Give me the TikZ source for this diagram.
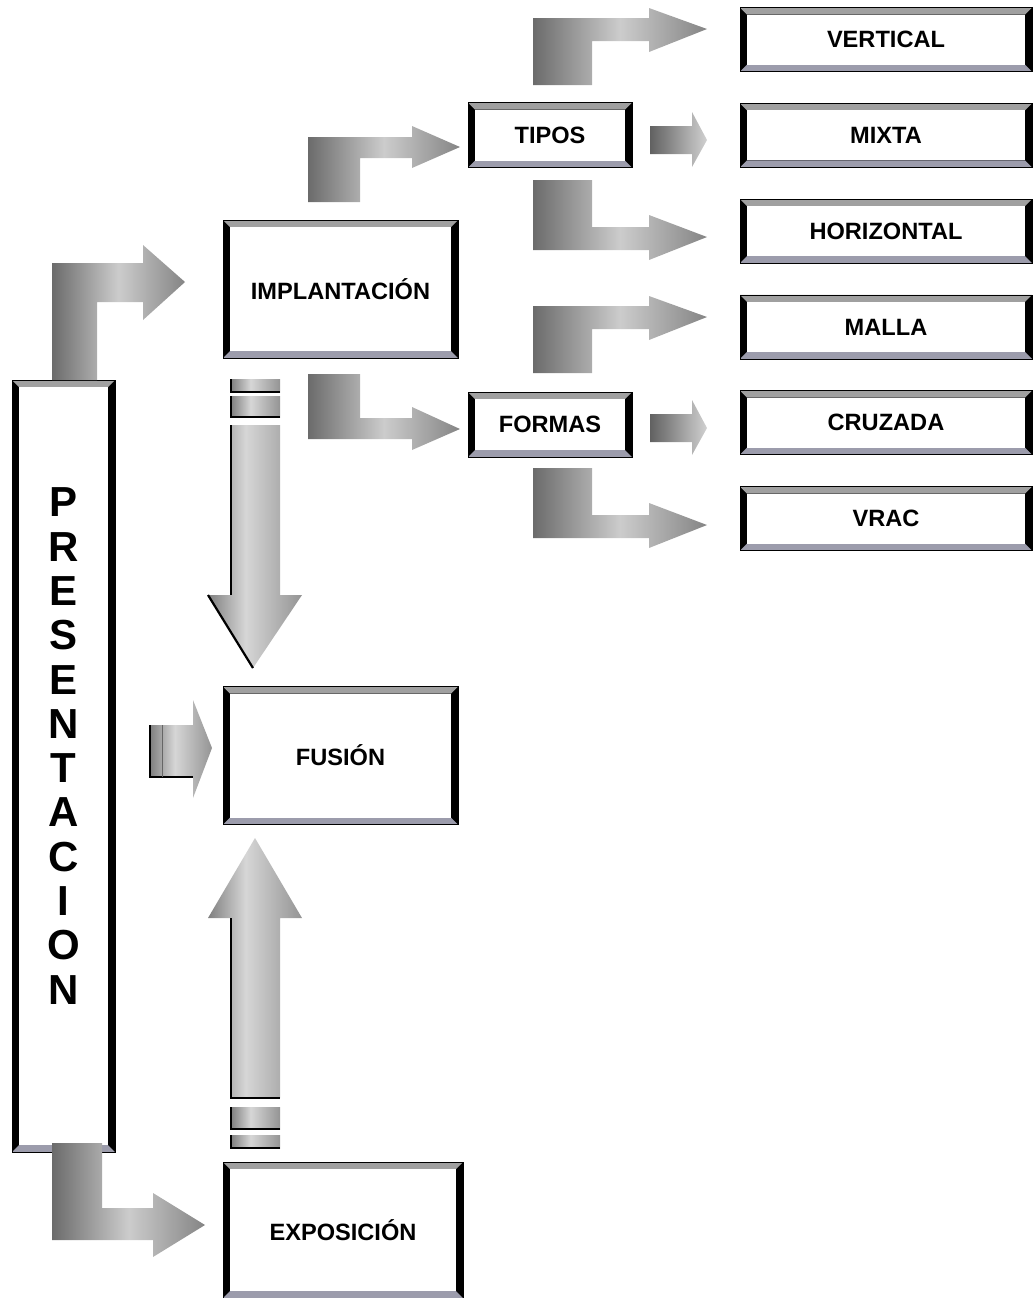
\documentclass[tikz,border=0pt]{standalone}
\usepackage{fontspec}
\setmainfont{Liberation Sans}
\usetikzlibrary{calc}

\newcommand{\bv}{3.5pt}
\definecolor{bandtop}{HTML}{A0A0A0}
\definecolor{bandbot}{HTML}{9C9CAC}
\pgfdeclarehorizontalshading{fatgrad}{100bp}{color(0bp)=(black!58); color(25bp)=(black!58);
  color(50bp)=(black!20); color(75bp)=(black!48); color(100bp)=(black!48)}
\pgfdeclarehorizontalshading{flatgrad}{100bp}{color(0bp)=(black!62); color(25bp)=(black!62);
  color(75bp)=(black!18); color(100bp)=(black!18)}
\pgfdeclarehorizontalshading{shaftgrad}{100bp}{color(0bp)=(black!50); color(25bp)=(black!50);
  color(45bp)=(black!16); color(75bp)=(black!42); color(100bp)=(black!42)}

\tikzset{
  bevelbox/.style={draw=black, line width=0.4pt, fill=black, inner sep=0pt,
    font=\bfseries\fontsize{11.8}{13}\selectfont,
    path picture={
      \coordinate (nw) at (path picture bounding box.north west);
      \coordinate (ne) at (path picture bounding box.north east);
      \coordinate (sw) at (path picture bounding box.south west);
      \coordinate (se) at (path picture bounding box.south east);
      \fill[bandtop] (nw) -- (ne) -- ([shift={(-\bv,-\bv)}]ne)
        -- ([shift={(\bv,-\bv)}]nw) -- cycle;
      \fill[bandbot] (sw) -- (se) -- ([shift={(-\bv,\bv)}]se)
        -- ([shift={(\bv,\bv)}]sw) -- cycle;
      \fill[white] ([shift={(\bv,-\bv)}]nw) rectangle ([shift={(-\bv,\bv)}]se);
    }},
  bigbox/.style={bevelbox, minimum width=117.5pt, minimum height=69pt},
  tagbox/.style={bevelbox, minimum width=82pt, minimum height=32.5pt},
  leafbox/.style={bevelbox, minimum width=146pt, minimum height=32pt},
  fatarrow/.style={shading=fatgrad},
  flatarrow/.style={shading=flatgrad},
  shaftarrow/.style={shading=shaftgrad},
  rim/.style={draw=black, line width=1.1pt}
}

\begin{document}
\begin{tikzpicture}[x=0.5pt, y=-0.5pt]
  \useasboundingbox (0,0) rectangle (1034,1298);

  % cajas
  \node[bevelbox, minimum width=51.5pt, minimum height=386pt,
        label={[font=\bfseries\fontsize{21}{22.15}\selectfont, align=center, yshift=10pt]center:P\\R\\E\\S\\E\\N\\T\\A\\C\\I\\O\\N}]
        (pres) at (63.5,766) {};
  \node[bigbox] (impl) at (340.5,289) {IMPLANTACIÓN};
  \node[bigbox] (fus) at (340.5,755.5) {FUSIÓN};
  \node[bigbox, minimum width=120pt, minimum height=68pt] (expo) at (343,1230) {EXPOSICIÓN};
  \node[tagbox] (tipos) at (550,135) {TIPOS};
  \node[tagbox] (formas) at (550,424.5) {FORMAS};
  \foreach \nm/\txt [count=\i from 0] in {vert/VERTICAL,mix/MIXTA,hor/HORIZONTAL,mal/MALLA,cruz/CRUZADA,vrac/VRAC}
    \node[leafbox] (\nm) at (886,{39.5+95.8*\i}) {\txt};

  % flechas desde PRESENTACION
  \shade[fatarrow] (52,380) -- (52,263) -- (143,263) -- (143,245) -- (185,282)
     -- (143,320) -- (143,302) -- (97,302) -- (97,380) -- cycle;
  \shade[fatarrow] (52,1143) -- (52,1240) -- (153,1240) -- (153,1257) -- (205,1225)
     -- (153,1193) -- (153,1208) -- (102,1208) -- (102,1143) -- cycle;
  \shade[shaftarrow] (150,725) -- (193,725) -- (193,700) -- (212,748)
     -- (193,798) -- (193,777) -- (150,777) -- cycle;
  \draw[rim] (150,725) -- (150,777) -- (193,777);
  \draw[black!60] (162,725) -- (162,777);

  % flechas desde IMPLANTACION
  \shade[fatarrow] (308,202) -- (308,137) -- (412,137) -- (412,126) -- (460,147)
     -- (412,168) -- (412,158) -- (360,158) -- (360,202) -- cycle;
  \shade[fatarrow] (308,374) -- (308,439) -- (412,439) -- (412,450) -- (460,429)
     -- (412,407) -- (412,418) -- (360,418) -- (360,374) -- cycle;

  % flecha hacia abajo
  \foreach \ya/\yb in {379/392,396/417}
    {
      \shade[shaftarrow] (231,\ya) rectangle (280,\yb);
      \draw[rim] (231,\ya) -- (231,\yb) -- (280,\yb);
    }
  \shade[shaftarrow] (231,425) -- (231,595) -- (208,595) -- (253,668)
     -- (302,595) -- (280,595) -- (280,425) -- cycle;
  \draw[rim] (231,425) -- (231,595);
  \draw[rim] (208,595) -- (253,668);

  % flecha hacia arriba
  \shade[shaftarrow] (255,838) -- (302,918) -- (280,918) -- (280,1098)
     -- (231,1098) -- (231,918) -- (208,918) -- cycle;
  \draw[rim] (231,918) -- (231,1098) -- (280,1098);
  \foreach \ya/\yb in {1107/1129,1135/1148}
    {
      \shade[shaftarrow] (231,\ya) rectangle (280,\yb);
      \draw[rim] (231,\ya) -- (231,\yb) -- (280,\yb);
    }

  % flechas desde TIPOS y FORMAS
  \foreach \dy in {0,288}
    {
      \shade[fatarrow] (533,{85+\dy}) -- (533,{18+\dy}) -- (649,{18+\dy}) -- (649,{8+\dy})
         -- (707,{29+\dy}) -- (649,{52+\dy}) -- (649,{41+\dy}) -- (592,{41+\dy})
         -- (592,{85+\dy}) -- cycle;
      \shade[flatarrow] (650,{126+\dy}) -- (692,{126+\dy}) -- (692,{112+\dy}) -- (707,{140+\dy})
         -- (692,{167+\dy}) -- (692,{154+\dy}) -- (650,{154+\dy}) -- cycle;
      \shade[fatarrow] (533,{180+\dy}) -- (533,{250+\dy}) -- (649,{250+\dy}) -- (649,{260+\dy})
         -- (707,{237+\dy}) -- (649,{215+\dy}) -- (649,{227+\dy}) -- (592,{227+\dy})
         -- (592,{180+\dy}) -- cycle;
    }
\end{tikzpicture}
\end{document}
